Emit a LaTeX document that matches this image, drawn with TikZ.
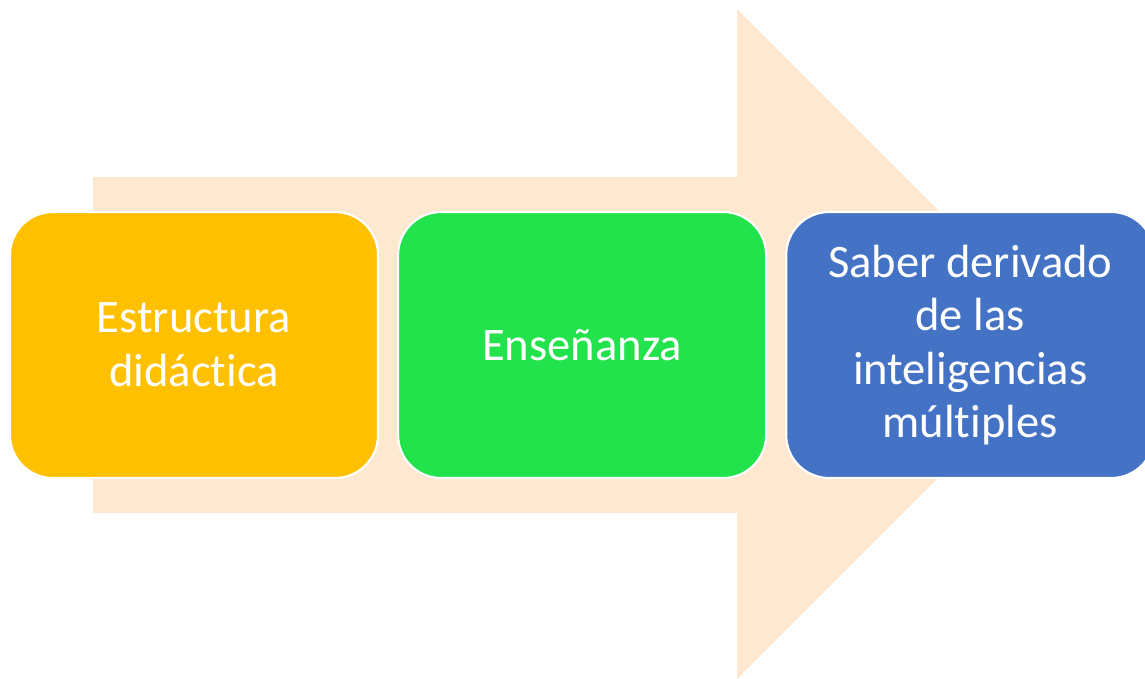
\documentclass[tikz,border=0pt]{standalone}
\usepackage{fontspec}
\setmainfont[Ligatures=NoCommon]{Carlito}
\usetikzlibrary{positioning}

\definecolor{peach}{RGB}{254,232,207}
\definecolor{boxyellow}{RGB}{255,192,0}
\definecolor{boxgreen}{RGB}{35,227,76}
\definecolor{boxblue}{RGB}{68,114,196}

\begin{document}
\begin{tikzpicture}[node distance=0.36cm,
  stage/.style={draw=white, line width=1.2pt, rounded corners=0.86cm,
    minimum width=7.36cm, minimum height=5.32cm, inner sep=0pt,
    text=white, align=center, font=\fontsize{26.5}{30.5}\selectfont}]

\useasboundingbox (0,0) rectangle (22.9,-13.56);

% define the big background arrow
  \fill[peach] (1.86,-3.54) -- (14.74,-3.54) -- (14.74,-0.18) -- (21.44,-6.88)
    -- (14.74,-13.58) -- (14.74,-10.26) -- (1.86,-10.26) -- cycle;

% define the stages
  \node[stage, fill=boxyellow] (s1) at (3.88,-6.9)
{Estructura\\didáctica};
  \node[stage, fill=boxgreen]  (s2) [right=of s1]
{Enseñanza};
  \node[stage, fill=boxblue]   (s3) [right=of s2]
{Saber derivado\\de las\\inteligencias\\múltiples};

\end{tikzpicture}
\end{document}
